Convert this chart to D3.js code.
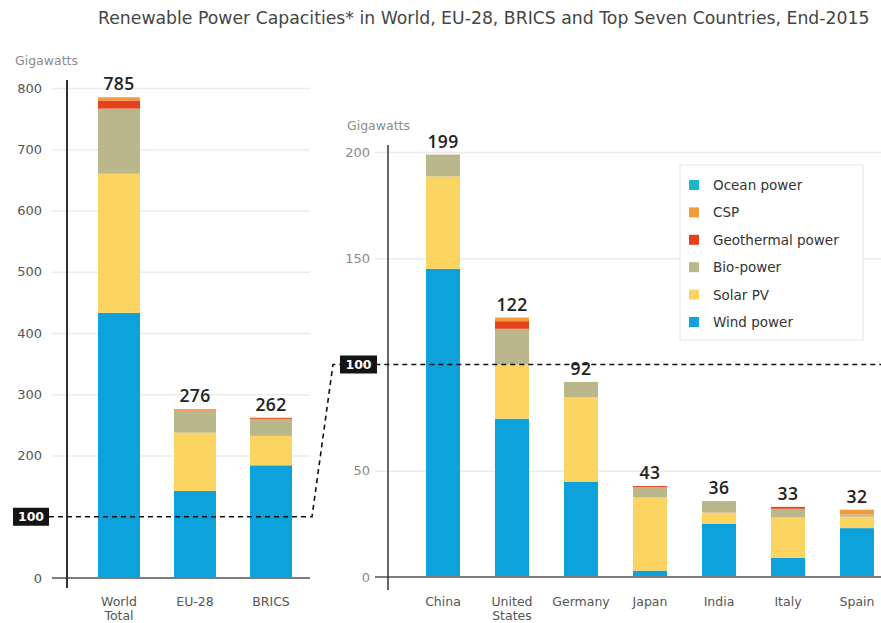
<!DOCTYPE html>
<html>
<head>
<meta charset="utf-8">
<script src="https://cdn.jsdelivr.net/npm/d3@7"></script>
<style>
  body { margin: 0; background: #fff; }
  svg { display: block; font-family: "DejaVu Sans", sans-serif; }
</style>
</head>
<body>
<svg id="chart" width="881" height="623"></svg>
<script>
// Technologies, bottom of the stack first
const seriesNames = ["Wind power", "Solar PV", "Bio-power", "Geothermal power", "CSP", "Ocean power"];
const seriesColors = ["#0ea2dc", "#fcd462", "#b9b78b", "#e5421c", "#f39a3b", "#1bb5c6"];

// Aggregates (GW)
const groupCats = ["World Total", "EU-28", "BRICS"];
const groupWind = [433, 142, 184];
const groupSolar = [227, 95.4, 48];
const groupBio = [106.4, 35, 27.5];
const groupGeo = [13.2, 1, 1.5];
const groupCsp = [4.8, 2.3, 0.6];
const groupOcean = [0.5, 0.2, 0.2];

// Top seven countries (GW)
const countryCats = ["China", "United States", "Germany", "Japan", "India", "Italy", "Spain"];
const countryWind = [145, 74.5, 44.9, 3, 25.1, 9.1, 23];
const countrySolar = [43.5, 25.6, 39.7, 34.4, 5.2, 18.9, 5.4];
const countryBio = [10.3, 16.7, 7.2, 4.9, 5.4, 4.1, 1.0];
const countryGeo = [0, 3.6, 0, 0.5, 0, 0.9, 0];
const countryCsp = [0, 1.7, 0, 0, 0, 0, 2.3];
const countryOcean = [0, 0, 0, 0, 0, 0, 0];

const leftTicks = [0, 200, 300, 400, 500, 600, 700, 800];
const rightTicks = [0, 50, 150, 200];
const markerValue = 100;

const titleText = "Renewable Power Capacities* in World, EU-28, BRICS and Top Seven Countries, End-2015";
const unitLabel = "Gigawatts";

function buildRows(cats, cols) {
  return cats.map((c, i) => {
    const row = { cat: c };
    seriesNames.forEach((s, k) => { row[s] = cols[k][i]; });
    return row;
  });
}
const groupRows = buildRows(groupCats, [groupWind, groupSolar, groupBio, groupGeo, groupCsp, groupOcean]);
const countryRows = buildRows(countryCats, [countryWind, countrySolar, countryBio, countryGeo, countryCsp, countryOcean]);

const svg = d3.select("#chart");
const color = d3.scaleOrdinal().domain(seriesNames).range(seriesColors);
const stack = d3.stack().keys(seriesNames);

// Title, stretched to span the header
const title = svg.append("text")
  .attr("x", 98).attr("y", 24)
  .attr("fill", "#454545")
  .style("font-size", "15px")
  .text(titleText);
const tw = title.node().getComputedTextLength();
title.style("font-size", (15 * 772 / tw) + "px");

function panel(opts) {
  const { rows, x, y, barW, gridX0, gridX1, axisX, axisY0, axisY1, tickPad, tickColor, ticks, unitPos } = opts;
  const g = svg.append("g");

  // gridlines + tick labels
  const axis = d3.axisLeft(y).tickValues(ticks).tickSize(-(gridX1 - gridX0)).tickPadding(tickPad);
  const ag = g.append("g").attr("transform", `translate(${gridX0},0)`).call(axis);
  ag.select(".domain").remove();
  ag.selectAll(".tick line").attr("stroke", "#ececec").attr("stroke-width", 1.5);
  ag.selectAll(".tick text")
    .attr("fill", tickColor)
    .style("font-size", "13px")
    .style("font-family", "DejaVu Sans, sans-serif");

  g.append("text")
    .attr("x", unitPos[0]).attr("y", unitPos[1])
    .attr("fill", "#8c8c8c")
    .style("font-size", "12.5px")
    .attr("dominant-baseline", "central")
    .text(unitLabel);

  // stacked bars
  const layers = stack(rows);
  g.append("g").selectAll("g").data(layers).join("g")
    .attr("fill", d => color(d.key))
    .selectAll("rect").data(d => d).join("rect")
    .attr("x", d => x(d.data.cat) - barW / 2)
    .attr("width", barW)
    .attr("y", d => y(d[1]))
    .attr("height", d => Math.max(0, y(d[0]) - y(d[1])));

  // zero line
  g.append("line")
    .attr("x1", gridX0).attr("x2", gridX1)
    .attr("y1", y(0)).attr("y2", y(0))
    .attr("stroke", "#7d7d7d").attr("stroke-width", 2);

  // vertical axis line
  g.append("line")
    .attr("x1", axisX).attr("x2", axisX)
    .attr("y1", axisY0).attr("y2", axisY1)
    .attr("stroke", "#333").attr("stroke-width", opts.axisW);

  // totals above bars
  g.selectAll(".total").data(rows).join("text")
    .attr("class", "total")
    .attr("x", d => x(d.cat))
    .attr("y", d => y(d3.sum(seriesNames, s => d[s])) - 7)
    .attr("text-anchor", "middle")
    .attr("fill", "#222")
    .style("font-family", "'Open Sans', sans-serif")
    .style("font-size", "17.5px")
    .style("font-weight", "600")
    .style("letter-spacing", "0.4px")
    .text(d => Math.round(d3.sum(seriesNames, s => d[s])));

  // category labels (multi-word names wrap)
  const lab = g.selectAll(".cat").data(rows).join("text")
    .attr("class", "cat")
    .attr("text-anchor", "middle")
    .attr("fill", "#555")
    .style("font-size", "12.5px");
  lab.each(function (d) {
    const words = d.cat.split(" ");
    const t = d3.select(this);
    words.forEach((w, i) => {
      t.append("tspan").attr("x", x(d.cat)).attr("y", opts.labelY + i * 14).text(w);
    });
  });
  return g;
}

// Left panel: world, EU-28, BRICS
const xL = d3.scalePoint().domain(groupCats).range([119, 271]);
const yL = d3.scaleLinear().domain([0, 800]).range([578, 88]);
panel({
  rows: groupRows, x: xL, y: yL, barW: 42,
  gridX0: 52, gridX1: 310, axisX: 67, axisY0: 80, axisY1: 588, axisW: 2,
  tickPad: 10, tickColor: "#555", ticks: leftTicks,
  unitPos: [15, 60], labelY: 606
});

// Right panel: top seven countries
const xR = d3.scalePoint().domain(countryCats).range([443, 857]);
const yR = d3.scaleLinear().domain([0, 200]).range([577, 152]);
panel({
  rows: countryRows, x: xR, y: yR, barW: 34,
  gridX0: 375, gridX1: 881, axisX: 388, axisY0: 145, axisY1: 590, axisW: 1.5,
  tickPad: 5, tickColor: "#8a8a8a", ticks: rightTicks,
  unitPos: [347, 125], labelY: 606
});

// Dashed 100 GW reference linking both panels
const yl100 = yL(markerValue), yr100 = yR(markerValue);
svg.append("path")
  .attr("d", `M49,${yl100}H312L333,${yr100}H881`)
  .attr("fill", "none")
  .attr("stroke", "#111")
  .attr("stroke-width", 1.6)
  .attr("stroke-dasharray", "5,4");

function marker(x0, w, yc) {
  svg.append("rect").attr("x", x0).attr("y", yc - 9).attr("width", w).attr("height", 18).attr("fill", "#141414");
  svg.append("text").attr("x", x0 + w / 2).attr("y", yc)
    .attr("text-anchor", "middle").attr("dominant-baseline", "central")
    .attr("fill", "#fff").style("font-size", "12.5px").style("font-weight", "bold")
    .text(markerValue);
}
marker(13, 36, yl100);
marker(340, 37, yr100);

// Legend (top of stack listed first)
const legend = svg.append("g");
legend.append("rect")
  .attr("x", 680).attr("y", 165).attr("width", 183).attr("height", 175)
  .attr("fill", "#fff").attr("stroke", "#e6e6e6");
const legendItems = seriesNames.slice().reverse();
const li = legend.selectAll(".li").data(legendItems).join("g")
  .attr("transform", (d, i) => `translate(689,${185 + i * 27.4})`);
li.append("rect").attr("x", 0).attr("y", -5).attr("width", 10).attr("height", 10).attr("fill", d => color(d));
li.append("text").attr("x", 24).attr("y", 0)
  .attr("dominant-baseline", "central")
  .attr("fill", "#333").style("font-size", "13.5px")
  .text(d => d);
</script>
</body>
</html>
